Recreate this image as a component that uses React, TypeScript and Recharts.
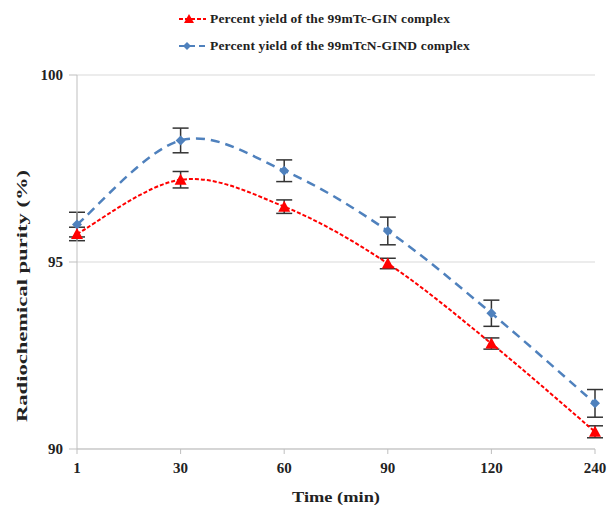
import React from "react";
import { CartesianGrid, ErrorBar, Line, LineChart, XAxis, YAxis } from "recharts";

const times = ["1", "30", "60", "90", "120", "240"];
const ginYield = [95.75, 97.2, 96.48, 94.96, 92.82, 90.46];
const ginError = [0.18, 0.22, 0.18, 0.14, 0.15, 0.16];
const gindYield = [96.0, 98.25, 97.44, 95.83, 93.63, 91.22];
const gindError = [0.33, 0.33, 0.29, 0.37, 0.35, 0.37];
const yTicks = [90, 95, 100];

const data = times.map((t, i) => ({
  time: t,
  gin: ginYield[i],
  ginErr: ginError[i],
  gind: gindYield[i],
  gindErr: gindError[i],
}));

// Excel-style smoothing (Catmull-Rom through the points)
function smoothCurve(context: any) {
  let pts: [number, number][] = [];
  return {
    areaStart() {},
    areaEnd() {},
    lineStart() {
      pts = [];
    },
    point(x: number, y: number) {
      pts.push([+x, +y]);
    },
    lineEnd() {
      if (!pts.length) return;
      context.moveTo(pts[0][0], pts[0][1]);
      for (let i = 0; i < pts.length - 1; i++) {
        const p0 = pts[i - 1] || pts[i];
        const p1 = pts[i];
        const p2 = pts[i + 1];
        const p3 = pts[i + 2] || p2;
        context.bezierCurveTo(
          p1[0] + (p2[0] - p0[0]) / 6,
          p1[1] + (p2[1] - p0[1]) / 6,
          p2[0] - (p3[0] - p1[0]) / 6,
          p2[1] - (p3[1] - p1[1]) / 6,
          p2[0],
          p2[1]
        );
      }
    },
  };
}

const RED = "#ff0000";
const BLUE = "#4f81bd";
const font = "'Liberation Serif', 'Times New Roman', serif";
const tickStyle = { fontFamily: font, fontWeight: "bold", fontSize: 15, fill: "#222" };

const Triangle = ({ cx, cy }: any) =>
  cx == null ? null : (
    <path d={`M${cx},${cy - 6} L${cx + 6},${cy + 5} L${cx - 6},${cy + 5} Z`} fill={RED} />
  );

const Diamond = ({ cx, cy }: any) =>
  cx == null ? null : (
    <path d={`M${cx},${cy - 5} L${cx + 5},${cy} L${cx},${cy + 5} L${cx - 5},${cy} Z`} fill={BLUE} />
  );

// axis titles look stretched in the original, so pin their length
const YTitle = ({ viewBox }: any) => {
  const x = viewBox.x + 22;
  const y = viewBox.y + viewBox.height / 2 + 34;
  return (
    <text
      x={x}
      y={y}
      transform={`rotate(-90 ${x} ${y})`}
      textAnchor="middle"
      dominantBaseline="central"
      textLength={252}
      lengthAdjust="spacingAndGlyphs"
      style={{ fontFamily: font, fontWeight: "bold", fontSize: 15, fill: "#222" }}
    >
      Radiochemical purity (%)
    </text>
  );
};

const XTitle = ({ viewBox }: any) => {
  const x = viewBox.x + viewBox.width / 2;
  return (
    <text
      x={x}
      y={497}
      textAnchor="middle"
      dominantBaseline="central"
      textLength={88}
      lengthAdjust="spacingAndGlyphs"
      style={{ fontFamily: font, fontWeight: "bold", fontSize: 15, fill: "#222" }}
    >
      Time (min)
    </text>
  );
};

function LegendRow({ top, color, dash, marker, text }: any) {
  return (
    <div style={{ position: "absolute", left: 178, top, display: "flex", alignItems: "center" }}>
      <svg width={30} height={14}>
        <line x1={1} y1={7} x2={28} y2={7} stroke={color} strokeWidth={2} strokeDasharray={dash} />
        {marker === "tri" ? (
          <path d="M11,2 L16,11 L6,11 Z" fill={RED} />
        ) : (
          <path d="M9,3 L13,7 L9,11 L5,7 Z" fill={BLUE} />
        )}
      </svg>
      <span
        style={{
          fontFamily: font,
          fontWeight: "bold",
          fontSize: 13.5,
          letterSpacing: 0.15,
          color: "#222",
          marginLeft: 2,
        }}
      >
        {text}
      </span>
    </div>
  );
}

export default function App() {
  return (
    <div style={{ position: "absolute", left: 0, top: 0, width: 607, height: 505, background: "#fff" }}>
      <LegendRow top={11} color={RED} dash="4 2" marker="tri" text="Percent yield of the 99mTc-GIN complex" />
      <LegendRow top={38} color={BLUE} dash="6 4" marker="dia" text="Percent yield of the 99mTcN-GIND complex" />
      <LineChart width={607} height={505} data={data} margin={{ top: 75, right: 12, bottom: 0, left: 0 }}>
        <CartesianGrid vertical={false} stroke="#d9d9d9" strokeWidth={1.2} />
        <XAxis
          dataKey="time"
          height={56}
          stroke="#bfbfbf"
          tickSize={5}
          tickMargin={8}
          tick={tickStyle}
          label={<XTitle />}
        />
        <YAxis
          width={77}
          domain={[90, 100]}
          ticks={yTicks}
          stroke="#bfbfbf"
          tickSize={8}
          tickMargin={6}
          tick={tickStyle}
          label={<YTitle />}
        />
        <Line
          dataKey="gind"
          type={smoothCurve as any}
          stroke={BLUE}
          strokeWidth={2.5}
          strokeDasharray="9 6"
          dot={<Diamond />}
          activeDot={false}
          isAnimationActive={false}
        >
          <ErrorBar dataKey="gindErr" direction="y" width={8} stroke="#333" strokeWidth={1.5} />
        </Line>
        <Line
          dataKey="gin"
          type={smoothCurve as any}
          stroke={RED}
          strokeWidth={2}
          strokeDasharray="4 2"
          dot={<Triangle />}
          activeDot={false}
          isAnimationActive={false}
        >
          <ErrorBar dataKey="ginErr" direction="y" width={8} stroke="#333" strokeWidth={1.5} />
        </Line>
      </LineChart>
    </div>
  );
}
